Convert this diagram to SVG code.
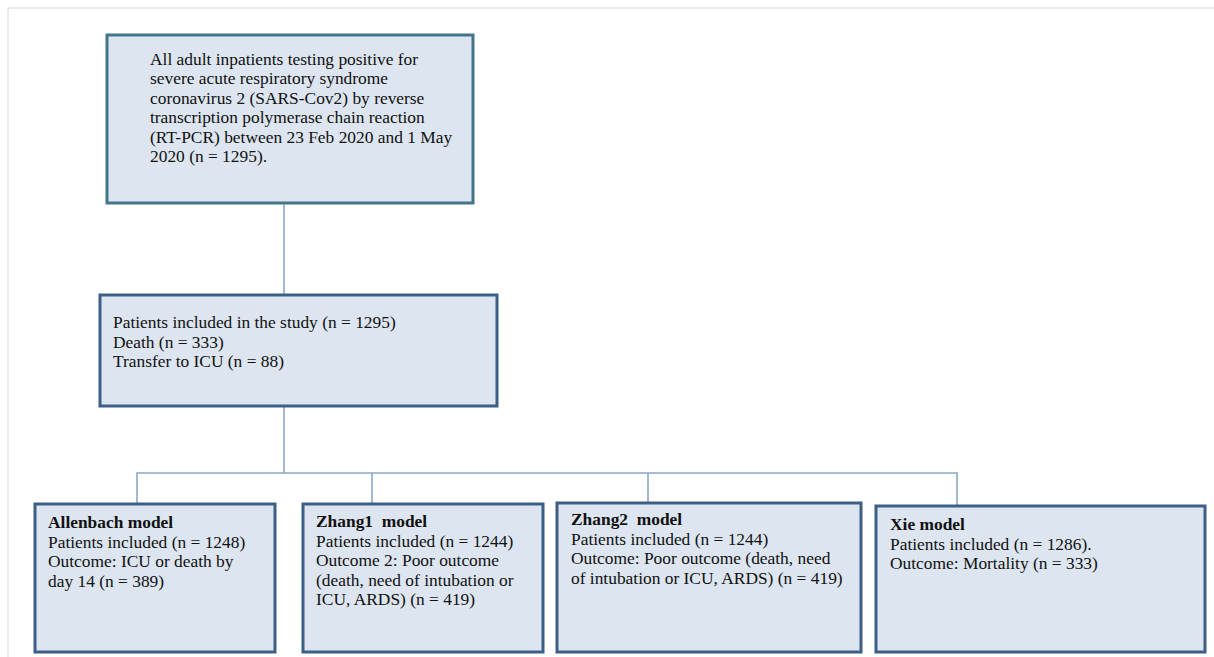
<svg xmlns="http://www.w3.org/2000/svg" width="1214" height="657" viewBox="0 0 1214 657">
<style>
.box{fill:#dce5f0;stroke:#3d5f86;stroke-width:3}
.box-top{stroke:#44748a}
.t{font-family:"Liberation Serif","Times New Roman",serif;font-size:17.4px;fill:#111}
.b{font-weight:bold}
.con{fill:none;stroke:#8ba8c6;stroke-width:1.6}
.frame{fill:none;stroke:#e4e4e4;stroke-width:1.5}
</style>
<rect width="1214" height="657" fill="#ffffff"/>
<path class="frame" d="M8,657 V8 H1214"/>
<g id="connectors">
<path class="con" d="M284,204 V295"/>
<path class="con" d="M284,406 V473"/>
<path class="con" d="M137,504 V473 H957 V506"/>
<path class="con" d="M372,473 V504"/>
<path class="con" d="M648,473 V503"/>
</g>
<g id="n_all">
<rect class="box box-top" x="107" y="35" width="366" height="168"/>
<text class="t" x="150" y="65">All adult inpatients testing positive for</text>
<text class="t" x="150" y="84.4">severe acute respiratory syndrome</text>
<text class="t" x="150" y="103.8">coronavirus 2 (SARS-Cov2) by reverse</text>
<text class="t" x="150" y="123.2">transcription polymerase chain reaction</text>
<text class="t" x="150" y="142.6">(RT-PCR) between 23 Feb 2020 and 1 May</text>
<text class="t" x="150" y="162">2020 (n = 1295).</text>
</g>
<g id="n_study">
<rect class="box" x="100" y="295" width="397" height="111"/>
<text class="t" x="113" y="328">Patients included in the study (n = 1295)</text>
<text class="t" x="113" y="347.5">Death (n = 333)</text>
<text class="t" x="113" y="367">Transfer to ICU (n = 88)</text>
</g>
<g id="n_allenbach">
<rect class="box" x="35" y="504" width="240" height="148"/>
<text class="t b" x="48" y="528">Allenbach model</text>
<text class="t" x="48" y="547.5">Patients included (n = 1248)</text>
<text class="t" x="48" y="567">Outcome: ICU or death by</text>
<text class="t" x="48" y="586.5">day 14 (n = 389)</text>
</g>
<g id="n_zhang1">
<rect class="box" x="303" y="504" width="240" height="148"/>
<text class="t b" x="316" y="527" xml:space="preserve">Zhang1  model</text>
<text class="t" x="316" y="546.5">Patients included (n = 1244)</text>
<text class="t" x="316" y="566">Outcome 2: Poor outcome</text>
<text class="t" x="316" y="585.5">(death, need of intubation or</text>
<text class="t" x="316" y="605">ICU, ARDS) (n = 419)</text>
</g>
<g id="n_zhang2">
<rect class="box" x="557" y="503" width="304" height="149"/>
<text class="t b" x="571" y="525" xml:space="preserve">Zhang2  model</text>
<text class="t" x="571" y="544.5">Patients included (n = 1244)</text>
<text class="t" x="571" y="564">Outcome: Poor outcome (death, need</text>
<text class="t" x="571" y="583.5">of intubation or ICU, ARDS) (n = 419)</text>
</g>
<g id="n_xie">
<rect class="box" x="876" y="506" width="329" height="146"/>
<text class="t b" x="890" y="530">Xie model</text>
<text class="t" x="890" y="549.5">Patients included (n = 1286).</text>
<text class="t" x="890" y="569">Outcome: Mortality (n = 333)</text>
</g>
</svg>
